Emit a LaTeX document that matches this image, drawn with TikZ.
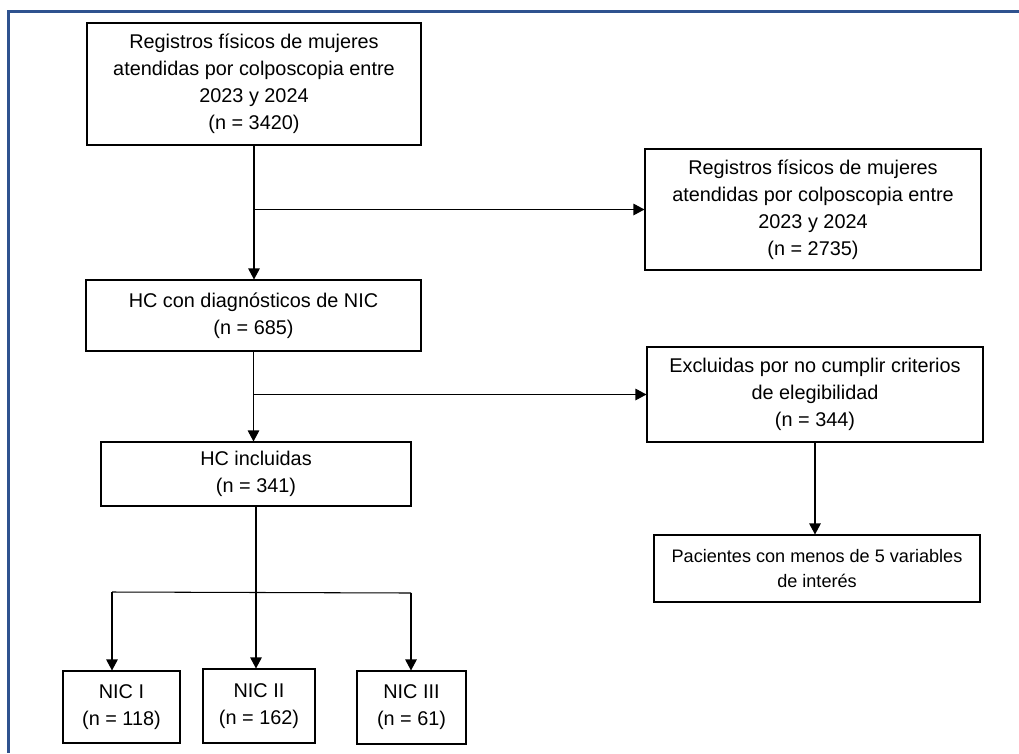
\documentclass[tikz,border=0pt]{standalone}
\usepackage{fontspec}
\setmainfont{Liberation Sans}
\usepackage{xcolor}
\usepackage{tikz}
\usetikzlibrary{arrows.meta,positioning,calc}
\definecolor{framblue}{HTML}{2F528F}

\begin{document}
\begin{tikzpicture}[
    box/.style={draw, line width=0.6pt, align=center, inner sep=2pt,
        font=\fontsize{11.3}{15.4}\selectfont},
    smallbox/.style={box, font=\fontsize{10.3}{14.2}\selectfont},
    arr/.style={-{Triangle[length=2.2mm,width=2.3mm]}, line width=0.6pt}
]
    \useasboundingbox (0,0) rectangle (20.38,-15.06);

    % Frame (blue, top and left edge only)
    \draw[framblue, line width=1.4pt] (20.38,-0.23) -- (0.17,-0.23) -- (0.17,-15.06);

    % Main column
    \node[box, minimum width=6.68cm, minimum height=2.44cm] (reg) at (5.08,-1.68)
        {Registros físicos de mujeres\\atendidas por colposcopia entre\\2023 y 2024\\(n = 3420)};
    \node[box, minimum width=6.70cm, minimum height=1.42cm] (diag) at (5.07,-6.31)
        {HC con diagnósticos de NIC\\(n = 685)};
    \node[box, minimum width=6.20cm, minimum height=1.28cm] (incl) at (5.12,-9.48)
        {HC incluidas\\(n = 341)};

    % Right column
    \node[box, minimum width=6.72cm, minimum height=2.42cm] (regex) at (16.26,-4.19)
        {Registros físicos de mujeres\\atendidas por colposcopia entre\\2023 y 2024\\(n = 2735)};
    \node[box, minimum width=6.72cm, minimum height=1.90cm] (excl) at (16.30,-7.89)
        {Excluidas por no cumplir criterios\\de elegibilidad\\(n = 344)};
    \node[smallbox, minimum width=6.52cm, minimum height=1.34cm] (pac) at (16.34,-11.37)
        {Pacientes con menos de 5 variables\\de interés};

    % NIC groups
    \node[box, minimum width=2.34cm, minimum height=1.44cm] (nic1) at (2.43,-14.14)
        {NIC I\\(n = 118)};
    \node[box, minimum width=2.24cm, minimum height=1.48cm] (nic2) at (5.18,-14.12)
        {NIC II\\(n = 162)};
    \node[box, minimum width=2.18cm, minimum height=1.46cm] (nic3) at (8.23,-14.15)
        {NIC III\\(n = 61)};

    % Arrows down the main column
    \draw[arr] (reg.south) -- (reg.south |- diag.north);
    \draw[arr] (diag.south) -- (diag.south |- incl.north);

    % Side branches
    \draw[arr] (reg.south |- regex.west) -- (regex.west);
    \draw[arr] (diag.south |- excl.west) -- (excl.west);
    \draw[arr] (excl.south) -- (excl.south |- pac.north);

    % Split into NIC I, II, III
    \coordinate (b1) at (2.24,-11.84);
    \coordinate (b3) at (8.22,-11.86);
    \draw[line width=0.6pt] (incl.south) -- (incl.south |- b1);
    \draw[line width=0.6pt] (b1) -- (b3);
    \draw[arr] (b1) -- (b1 |- nic1.north);
    \draw[arr] (incl.south |- b1) -- (incl.south |- nic2.north);
    \draw[arr] (b3) -- (b3 |- nic3.north);
\end{tikzpicture}
\end{document}
